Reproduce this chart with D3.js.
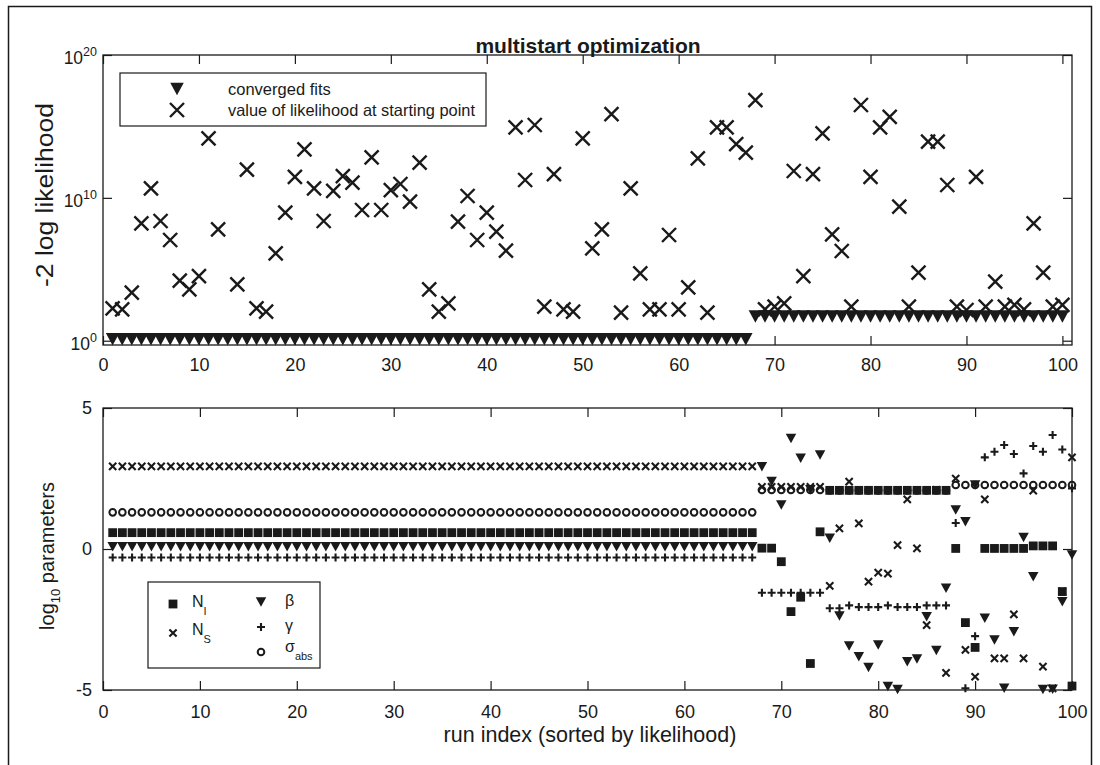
<!DOCTYPE html>
<html>
<head>
<meta charset="utf-8">
<script src="https://cdn.jsdelivr.net/npm/d3@7"></script>
<style>
body { margin: 0; background: #fff; }
svg { font-family: "Liberation Sans", Arial, Helvetica, sans-serif; }
</style>
</head>
<body>
<svg id="chart" width="1100" height="765"></svg>
<script>
// run index (sorted by likelihood)
var runIndex = d3.range(1, 101);

// top panel: log10 of -2 log likelihood at the starting point
var startLikLog10 = [
  2.27, 2.20, 3.36, 8.22, 10.66, 8.38, 7.05, 4.20, 3.59, 4.52,
  14.17, 7.79, 17.5, 3.95, 11.98, 2.27, 2.03, 6.12, 8.96, 11.47,
  13.39, 10.66, 8.38, 10.49, 11.52, 11.06, 9.15, 12.83, 9.15, 10.54,
  10.97, 9.73, 12.46, 3.59, 2.03, 2.62, 8.33, 10.13, 7.05, 8.96,
  7.63, 6.30, 14.93, 11.25, 15.10, 2.38, 11.66, 2.20, 2.03, 14.17,
  6.47, 7.79, 15.86, 1.96, 10.66, 4.72, 2.20, 2.20, 7.40, 2.20,
  3.74, 12.76, 1.96, 14.93, 14.93, 13.76, 13.16, 16.84, 2.20, 2.38,
  2.62, 11.88, 4.52, 11.66, 14.52, 7.45, 6.28, 2.38, 16.50, 11.47,
  14.93, 15.67, 9.38, 2.38, 4.76, 13.93, 13.93, 10.90, 2.38, 2.15,
  11.47, 2.38, 4.13, 2.38, 2.51, 2.20, 8.22, 4.76, 2.38, 2.51
];

// top panel: log10 of -2 log likelihood of the converged fits
var convergedLog10 = [
  0.1, 0.1, 0.1, 0.1, 0.1, 0.1, 0.1, 0.1, 0.1, 0.1,
  0.1, 0.1, 0.1, 0.1, 0.1, 0.1, 0.1, 0.1, 0.1, 0.1,
  0.1, 0.1, 0.1, 0.1, 0.1, 0.1, 0.1, 0.1, 0.1, 0.1,
  0.1, 0.1, 0.1, 0.1, 0.1, 0.1, 0.1, 0.1, 0.1, 0.1,
  0.1, 0.1, 0.1, 0.1, 0.1, 0.1, 0.1, 0.1, 0.1, 0.1,
  0.1, 0.1, 0.1, 0.1, 0.1, 0.1, 0.1, 0.1, 0.1, 0.1,
  0.1, 0.1, 0.1, 0.1, 0.1, 0.1, 0.1, 1.7, 1.7, 1.7,
  1.7, 1.7, 1.7, 1.7, 1.7, 1.7, 1.7, 1.7, 1.7, 1.7,
  1.7, 1.7, 1.7, 1.7, 1.7, 1.7, 1.7, 1.7, 1.7, 1.7,
  1.7, 1.7, 1.7, 1.7, 1.7, 1.7, 1.7, 1.7, 1.7, 1.7
];

// bottom panel: log10 parameters
var logNI = [
  0.58, 0.58, 0.58, 0.58, 0.58, 0.58, 0.58, 0.58, 0.58, 0.58,
  0.58, 0.58, 0.58, 0.58, 0.58, 0.58, 0.58, 0.58, 0.58, 0.58,
  0.58, 0.58, 0.58, 0.58, 0.58, 0.58, 0.58, 0.58, 0.58, 0.58,
  0.58, 0.58, 0.58, 0.58, 0.58, 0.58, 0.58, 0.58, 0.58, 0.58,
  0.58, 0.58, 0.58, 0.58, 0.58, 0.58, 0.58, 0.58, 0.58, 0.58,
  0.58, 0.58, 0.58, 0.58, 0.58, 0.58, 0.58, 0.58, 0.58, 0.58,
  0.58, 0.58, 0.58, 0.58, 0.58, 0.58, 0.58, 0.03, 0.03, -0.45,
  -2.22, -1.71, -4.06, 0.61, 2.08, 2.08, 2.08, 2.08, 2.08, 2.08,
  2.08, 2.08, 2.08, 2.08, 2.08, 2.08, 2.08, 0.02, -2.61, -3.49,
  0.02, 0.02, 0.02, 0.02, 0.02, 0.11, 0.11, 0.11, -1.51, -4.86
];
var logNS = [
  2.93, 2.93, 2.93, 2.93, 2.93, 2.93, 2.93, 2.93, 2.93, 2.93,
  2.93, 2.93, 2.93, 2.93, 2.93, 2.93, 2.93, 2.93, 2.93, 2.93,
  2.93, 2.93, 2.93, 2.93, 2.93, 2.93, 2.93, 2.93, 2.93, 2.93,
  2.93, 2.93, 2.93, 2.93, 2.93, 2.93, 2.93, 2.93, 2.93, 2.93,
  2.93, 2.93, 2.93, 2.93, 2.93, 2.93, 2.93, 2.93, 2.93, 2.93,
  2.93, 2.93, 2.93, 2.93, 2.93, 2.93, 2.93, 2.93, 2.93, 2.93,
  2.93, 2.93, 2.93, 2.93, 2.93, 2.93, 2.93, 2.20, 2.20, 2.20,
  2.20, 2.20, 2.20, 2.20, -1.31, 0.73, 2.39, 0.91, -1.16, -0.84,
  -0.87, 0.14, 1.76, 0.02, -2.70, 2.10, -4.39, 2.50, -3.58, -4.53,
  1.76, -3.88, -3.88, -2.32, -3.88, 2.07, -4.17, -4.94, -1.50, 3.25
];
var logBeta = [
  0.08, 0.08, 0.08, 0.08, 0.08, 0.08, 0.08, 0.08, 0.08, 0.08,
  0.08, 0.08, 0.08, 0.08, 0.08, 0.08, 0.08, 0.08, 0.08, 0.08,
  0.08, 0.08, 0.08, 0.08, 0.08, 0.08, 0.08, 0.08, 0.08, 0.08,
  0.08, 0.08, 0.08, 0.08, 0.08, 0.08, 0.08, 0.08, 0.08, 0.08,
  0.08, 0.08, 0.08, 0.08, 0.08, 0.08, 0.08, 0.08, 0.08, 0.08,
  0.08, 0.08, 0.08, 0.08, 0.08, 0.08, 0.08, 0.08, 0.08, 0.08,
  0.08, 0.08, 0.08, 0.08, 0.08, 0.08, 0.08, 2.92, 2.39, 1.56,
  3.92, 3.22, 2.10, 3.33, 0.38, -2.38, -3.44, -3.82, -4.20, -3.40,
  -4.88, -4.98, -4.00, -3.90, -2.40, -3.60, -1.39, 1.38, 0.97, 2.27,
  -2.46, -3.23, -4.94, -2.93, 0.41, -0.98, -4.98, -4.97, -1.87, -0.21
];
var logGamma = [
  -0.30, -0.30, -0.30, -0.30, -0.30, -0.30, -0.30, -0.30, -0.30, -0.30,
  -0.30, -0.30, -0.30, -0.30, -0.30, -0.30, -0.30, -0.30, -0.30, -0.30,
  -0.30, -0.30, -0.30, -0.30, -0.30, -0.30, -0.30, -0.30, -0.30, -0.30,
  -0.30, -0.30, -0.30, -0.30, -0.30, -0.30, -0.30, -0.30, -0.30, -0.30,
  -0.30, -0.30, -0.30, -0.30, -0.30, -0.30, -0.30, -0.30, -0.30, -0.30,
  -0.30, -0.30, -0.30, -0.30, -0.30, -0.30, -0.30, -0.30, -0.30, -0.30,
  -0.30, -0.30, -0.30, -0.30, -0.30, -0.30, -0.30, -1.55, -1.55, -1.55,
  -1.55, -1.55, -1.55, -1.55, -2.10, -2.10, -2.00, -2.06, -2.06, -2.06,
  -2.00, -2.06, -2.06, -2.06, -2.00, -2.00, -2.00, 0.92, -4.94, -3.09,
  3.25, 3.45, 3.69, 3.37, 2.68, 3.65, 3.45, 4.04, 3.53, 2.15
];
var logSigma = [
  1.30, 1.30, 1.30, 1.30, 1.30, 1.30, 1.30, 1.30, 1.30, 1.30,
  1.30, 1.30, 1.30, 1.30, 1.30, 1.30, 1.30, 1.30, 1.30, 1.30,
  1.30, 1.30, 1.30, 1.30, 1.30, 1.30, 1.30, 1.30, 1.30, 1.30,
  1.30, 1.30, 1.30, 1.30, 1.30, 1.30, 1.30, 1.30, 1.30, 1.30,
  1.30, 1.30, 1.30, 1.30, 1.30, 1.30, 1.30, 1.30, 1.30, 1.30,
  1.30, 1.30, 1.30, 1.30, 1.30, 1.30, 1.30, 1.30, 1.30, 1.30,
  1.30, 1.30, 1.30, 1.30, 1.30, 1.30, 1.30, 2.09, 2.09, 2.09,
  2.09, 2.09, 2.09, 2.09, 2.08, 2.08, 2.08, 2.08, 2.08, 2.08,
  2.08, 2.08, 2.08, 2.08, 2.08, 2.08, 2.08, 2.27, 2.27, 2.27,
  2.27, 2.27, 2.27, 2.27, 2.27, 2.27, 2.27, 2.27, 2.27, 2.27
];

var xTicks = [0, 10, 20, 30, 40, 50, 60, 70, 80, 90, 100];
var topYExponents = [0, 10, 20];
var bottomYTicks = [-5, 0, 5];

var ink = "#1a1a1a";
var svg = d3.select("#chart");

// marker shapes
function triDown(w, h) { return "M" + (-w / 2) + "," + (-h / 2) + "L" + (w / 2) + "," + (-h / 2) + "L0," + (h / 2) + "Z"; }
function cross(s) { return "M" + (-s) + "," + (-s) + "L" + s + "," + s + "M" + (-s) + "," + s + "L" + s + "," + (-s); }
function plus(s) { return "M" + (-s) + ",0L" + s + ",0M0," + (-s) + "L0," + s; }

// outer figure frame
svg.append("rect")
    .attr("x", 8.5).attr("y", 6.5)
    .attr("width", 1083).attr("height", 775)
    .attr("fill", "none").attr("stroke", ink).attr("stroke-width", 1.5);

function styleAxis(g) {
    g.select(".domain").remove();
    g.selectAll(".tick line").attr("stroke", ink).attr("stroke-width", 1.2);
    g.selectAll(".tick text").attr("fill", ink).attr("font-size", 18)
        .attr("font-family", "Liberation Sans, Arial, sans-serif");
}

function drawBox(x, y, yTickVals, pad) {
    var x0 = x.range()[0], x1 = x.range()[1], y0 = y.range()[0], y1 = y.range()[1];
    svg.append("g").attr("transform", "translate(0," + y0 + ")")
        .call(d3.axisBottom(x).tickValues(xTicks).tickSizeInner(-9).tickSizeOuter(0).tickPadding(pad).tickFormat(String))
        .call(styleAxis);
    svg.append("g").attr("transform", "translate(0," + y1 + ")")
        .call(d3.axisTop(x).tickValues(xTicks).tickSizeInner(-9).tickSizeOuter(0).tickFormat(""))
        .call(styleAxis);
    svg.append("g").attr("transform", "translate(" + x1 + ",0)")
        .call(d3.axisRight(y).tickValues(yTickVals).tickSizeInner(-9).tickSizeOuter(0).tickFormat(""))
        .call(styleAxis);
    svg.append("rect")
        .attr("x", x0).attr("y", y1)
        .attr("width", x1 - x0).attr("height", y0 - y1)
        .attr("fill", "none").attr("stroke", ink).attr("stroke-width", 1.3);
}

// ---------- top panel ----------
var xTop = d3.scaleLinear().domain([0, 101]).range([103, 1072]);
var yTop = d3.scaleLog().domain([Math.pow(10, -0.3), 1e20]).range([345, 55]);
var topYTicks = topYExponents.map(function(e) { return Math.pow(10, e); });

svg.append("g").attr("transform", "translate(103,0)")
    .call(d3.axisLeft(yTop).tickValues(topYTicks).tickSizeInner(-9).tickSizeOuter(0).tickFormat(""))
    .call(styleAxis);
drawBox(xTop, yTop, topYTicks, 13);

topYExponents.forEach(function(e) {
    var t = svg.append("text")
        .attr("x", 97).attr("y", yTop(Math.pow(10, e)) + 9)
        .attr("text-anchor", "end").attr("fill", ink).attr("font-size", 17.5);
    t.append("tspan").text("10");
    t.append("tspan").attr("dy", -8).attr("font-size", 12.5).text(e);
});

svg.append("g").selectAll("path.start")
    .data(runIndex)
    .enter().append("path")
    .attr("class", "start")
    .attr("transform", function(d, i) { return "translate(" + xTop(d) + "," + yTop(Math.pow(10, startLikLog10[i])) + ")"; })
    .attr("d", cross(7))
    .attr("fill", "none").attr("stroke", ink).attr("stroke-width", 2.4);

svg.append("g").selectAll("path.conv")
    .data(runIndex)
    .enter().append("path")
    .attr("class", "conv")
    .attr("transform", function(d, i) { return "translate(" + xTop(d) + "," + yTop(Math.pow(10, convergedLog10[i])) + ")"; })
    .attr("d", triDown(13.5, 12.5))
    .attr("fill", ink);

// top legend
var lg = svg.append("g");
lg.append("rect").attr("x", 120).attr("y", 73).attr("width", 366).attr("height", 53)
    .attr("fill", "#fff").attr("stroke", ink).attr("stroke-width", 1.2);
lg.append("path").attr("transform", "translate(177,89)").attr("d", triDown(13.5, 12.5)).attr("fill", ink);
lg.append("path").attr("transform", "translate(177,110)").attr("d", cross(7))
    .attr("fill", "none").attr("stroke", ink).attr("stroke-width", 2.4);
lg.append("text").attr("x", 228).attr("y", 89).attr("dy", "0.35em").attr("font-size", 16.5).attr("fill", ink).text("converged fits");
lg.append("text").attr("x", 228).attr("y", 110).attr("dy", "0.35em").attr("font-size", 16.5).attr("fill", ink)
    .attr("textLength", 247).attr("lengthAdjust", "spacingAndGlyphs")
    .text("value of likelihood at starting point");

// title and top y label
svg.append("text").attr("x", 588).attr("y", 53).attr("text-anchor", "middle")
    .attr("font-weight", "bold").attr("font-size", 21).attr("fill", ink)
    .text("multistart optimization");
svg.append("text").attr("transform", "translate(45,195) rotate(-90)")
    .attr("text-anchor", "middle").attr("dy", "0.35em").attr("font-size", 23).attr("fill", ink)
    .attr("textLength", 184).attr("lengthAdjust", "spacingAndGlyphs")
    .text("-2 log likelihood");

// ---------- bottom panel ----------
var xBot = d3.scaleLinear().domain([0, 100]).range([103, 1072]);
var yBot = d3.scaleLinear().domain([-5, 5]).range([690, 408]);

svg.append("g").attr("transform", "translate(103,0)")
    .call(d3.axisLeft(yBot).tickValues(bottomYTicks).tickSizeInner(-9).tickSizeOuter(0).tickPadding(11).tickFormat(String))
    .call(styleAxis);
drawBox(xBot, yBot, bottomYTicks, 15);

var gb = svg.append("g");
gb.selectAll("rect.ni").data(runIndex).enter().append("rect")
    .attr("class", "ni")
    .attr("x", function(d) { return xBot(d) - 4.4; })
    .attr("y", function(d, i) { return yBot(logNI[i]) - 4.4; })
    .attr("width", 8.8).attr("height", 8.8).attr("fill", ink);
gb.selectAll("path.ns").data(runIndex).enter().append("path")
    .attr("class", "ns")
    .attr("transform", function(d, i) { return "translate(" + xBot(d) + "," + yBot(logNS[i]) + ")"; })
    .attr("d", cross(3.6)).attr("fill", "none").attr("stroke", ink).attr("stroke-width", 2.1);
gb.selectAll("path.beta").data(runIndex).enter().append("path")
    .attr("class", "beta")
    .attr("transform", function(d, i) { return "translate(" + xBot(d) + "," + yBot(logBeta[i]) + ")"; })
    .attr("d", triDown(10.5, 9.5)).attr("fill", ink);
gb.selectAll("path.gamma").data(runIndex).enter().append("path")
    .attr("class", "gamma")
    .attr("transform", function(d, i) { return "translate(" + xBot(d) + "," + yBot(logGamma[i]) + ")"; })
    .attr("d", plus(4)).attr("fill", "none").attr("stroke", ink).attr("stroke-width", 2.1);
gb.selectAll("circle.sigma").data(runIndex).enter().append("circle")
    .attr("class", "sigma")
    .attr("cx", function(d) { return xBot(d); })
    .attr("cy", function(d, i) { return yBot(logSigma[i]); })
    .attr("r", 3.3).attr("fill", "none").attr("stroke", ink).attr("stroke-width", 2);

// bottom legend
var bl = svg.append("g");
bl.append("rect").attr("x", 148).attr("y", 582).attr("width", 172).attr("height", 86)
    .attr("fill", "#fff").attr("stroke", ink).attr("stroke-width", 1.2);
bl.append("rect").attr("x", 173 - 4.4).attr("y", 604 - 4.4).attr("width", 8.8).attr("height", 8.8).attr("fill", ink);
bl.append("path").attr("transform", "translate(173,633)").attr("d", cross(3.6))
    .attr("fill", "none").attr("stroke", ink).attr("stroke-width", 2.1);
bl.append("path").attr("transform", "translate(261,602)").attr("d", triDown(10.5, 9.5)).attr("fill", ink);
bl.append("path").attr("transform", "translate(261,627)").attr("d", plus(4))
    .attr("fill", "none").attr("stroke", ink).attr("stroke-width", 2.1);
bl.append("circle").attr("cx", 261).attr("cy", 652).attr("r", 3.3)
    .attr("fill", "none").attr("stroke", ink).attr("stroke-width", 2);

function legendLabel(x, y, main, sub) {
    var t = bl.append("text").attr("x", x).attr("y", y).attr("dy", "0.35em")
        .attr("font-size", 16).attr("fill", ink);
    t.append("tspan").text(main);
    if (sub) t.append("tspan").attr("dy", 8).attr("font-size", 11).text(sub);
}
legendLabel(192, 601, "N", "I");
legendLabel(192, 629, "N", "S");
legendLabel(285, 600, "\u03b2");
legendLabel(285, 625, "\u03b3");
legendLabel(285, 646, "\u03c3", "abs");

// bottom axis labels
var yl = svg.append("text").attr("transform", "translate(47,556) rotate(-90)")
    .attr("text-anchor", "middle").attr("dy", "0.35em").attr("font-size", 20).attr("fill", ink);
yl.append("tspan").text("log");
yl.append("tspan").attr("dy", 6).attr("font-size", 13).text("10");
yl.append("tspan").attr("dy", -6).text(" parameters");

svg.append("text").attr("x", 590).attr("y", 734).attr("text-anchor", "middle").attr("dy", "0.35em")
    .attr("font-size", 21.5).attr("fill", ink)
    .text("run index (sorted by likelihood)");
</script>
</body>
</html>
